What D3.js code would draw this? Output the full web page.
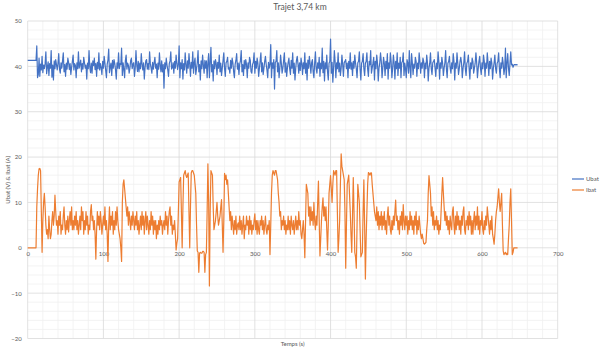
<!DOCTYPE html>
<html><head><meta charset="utf-8">
<script src="https://cdn.jsdelivr.net/npm/d3@7"></script>
<style>body{margin:0;background:#fff}svg{display:block}text{font-family:Lato,"Liberation Sans",sans-serif}</style>
</head><body><svg id="c" width="603" height="352"></svg>
<script>
const title = "Trajet 3,74 km";
const xLabel = "Temps (s)";
const yLabel = "Ubat (V) & Ibat (A)";
const seriesNames = ["Ubat", "Ibat"];
const xTicks = [0,100,200,300,400,500,600,700];
const yTicks = [-20,-10,0,10,20,30,40,50];
const timeStep = 1; // seconds between samples
const ubat = [
41.3,41.3,41.3,41.3,41.3,41.3,41.3,41.3,41.3,41.3,41.3,41.3,44.5,37.5,38.2,41.8,37.8,40.5,39.2,42.2,
38.6,40.3,39.5,40.6,43.2,38.4,39.8,41,38,40.6,39.6,43.5,37.6,40.3,37,41.2,39.5,41.5,40.4,39.2,
40.6,42.8,39.4,38.5,40.8,39.6,41.2,43,38.8,40.4,37.8,40.7,39.4,41.8,40.9,39.3,40.6,38.2,39.8,41.1,
42.5,39.2,40.6,40.2,37.5,40.8,39.5,43.2,39.6,40.5,41.4,38.8,40.6,39.4,42,40.8,39.6,40.3,37.2,40.7,
39.5,43.5,39.9,38.6,40.7,38.5,41.2,40.2,41.8,39.3,40.6,37.8,40.9,39.5,43,39.2,40.6,39.7,38.2,41.1,
39.6,42.2,40.7,39.1,37.5,40.5,41.4,43.8,38.6,39.9,40.7,38,41.3,39.6,41.5,40.6,39.2,37.2,40.8,39.6,
43,39.5,40.6,40.4,44,38,40.8,39.4,37.5,41.3,42.5,39.4,40.7,40.2,38.5,39.6,41.3,41.8,39.5,40.5,
40.8,37.8,39.6,43.5,40.3,38.9,41.1,38.8,40.7,39.5,42.8,40.5,39.2,40.8,37.2,39.7,41.2,41.5,39.4,40.6,
39.3,43.2,40.6,39.6,38.5,40.9,39.4,40.8,42,39.6,40.5,37.5,40.7,39.4,43,40.3,38.8,41.2,38.8,40.4,
35.2,40.8,39.5,41.8,40.3,39.2,37.8,40.6,41.2,43.2,39.4,39.7,40.8,38.5,41.1,39.6,42.5,40.7,39.3,40.4,
44.5,37.5,40.8,39.5,41.5,37.2,40.6,39.2,43,40.4,38.5,41.2,39.6,42.8,40.5,37.8,40.9,39.6,43.2,38.5,
40.8,41.8,38.2,39.5,40.9,43.5,38.8,40.4,37,41.2,39.5,42.5,40.3,38.5,41.3,39.6,41.2,37.5,40.8,42.8,
37.5,40.9,44.2,38.8,40.4,36.8,41.2,39.5,41.5,40.6,38.2,40.9,39.6,42.5,38.8,40.7,38,39.6,41.3,43,
39.5,37.8,40.8,41.1,42,39.4,39.7,38.5,41.3,39.6,41.8,40.8,38.8,37.5,40.5,41.3,42.8,39.4,40.7,38.2,
40.5,41.2,43.5,38.8,40.4,38,41.3,39.5,41.5,40.4,37.5,40.8,39.6,42,41.3,38.8,38.5,40.4,40.9,43,
38.5,41.1,39.6,41.8,40.7,37.8,39.5,41.3,43,38.8,40.8,38.2,39.6,41.1,42.2,40.4,39.2,37.5,40.9,39.6,
40.5,44.8,37.5,40.8,39.6,41.5,35,40.9,41.1,43.5,38.8,40.8,37.5,39.6,42.5,40.7,38.5,39.6,41.3,43,
38.7,40.8,37.8,39.6,40.9,41.8,39.5,38.2,41.3,39.6,43,38.5,40.7,37,39.6,41.4,42.2,40.5,38.5,40.8,
39.1,41.8,40.6,38.2,40.8,39.5,43,38.5,40.7,37,41.4,39.6,42.2,40.6,38.5,40.8,41.5,38.8,37.5,40.7,
43.2,39.5,38.5,40.8,39.6,42,37.8,40.7,39.5,44,38.6,41.1,36.8,40.8,39.5,42.5,38.8,37,40.7,41.1,
46,38.5,40.9,36.5,39.6,43.5,41.1,37.5,40.8,39.5,43,38.8,40.7,38,39.6,42.5,40.5,37.8,40.8,41.1,
41.5,39.5,40.7,37.5,41.1,39.6,43,39.4,40.8,38,41.1,39.6,42.5,40.7,39.5,37.5,40.8,41.1,43.2,39.4,
37,40.7,41.1,42.8,39.5,38,40.7,41.1,43,39.4,37.8,41.1,40.3,43.5,38.5,39.6,40.7,42,37,41.1,
39.5,42.5,40.7,36.8,39.6,40.8,43,41.1,37.5,39.6,42,40.7,38,41.1,39.5,42.8,37.2,40.8,39.6,43,
41.1,37.5,39.6,42.5,40.7,37.2,41.1,39.5,43,38,40.7,39.6,42,37.5,40.8,41.1,43,38,40.7,39.5,
37.5,41.5,40.7,38.5,43.5,39.6,37.5,42.8,40.8,38.2,40.5,39.6,42,41.1,37.8,40.7,39.5,43,41.1,38.5,
40.8,39.6,41.8,41.1,37.5,40.7,39.5,42.5,40.8,36.8,39.6,40.7,43,39.5,38.2,40.8,41.1,41.5,39.6,37.8,
40.7,39.5,43.2,41.1,37.2,40.8,39.6,42,40.7,38,39.6,40.8,43.5,39.5,37.5,40.7,41.1,42.2,39.6,38.5,
40.8,39.5,42.8,41.1,37,40.7,39.6,43,40.8,38.2,39.5,41.1,42,40.7,37.5,39.6,40.8,43.2,39.5,38,
40.7,41.1,42.5,39.6,37.2,40.8,39.5,41.8,41.1,38.5,39.6,40.7,43,40.8,37.5,39.5,41.1,42.2,39.6,38.2,
40.8,39.5,42.5,41.1,37.8,40.7,39.6,43,40.8,38,41.1,39.5,41.8,40.7,37.2,39.6,40.8,42.5,39.5,38.5,
40.7,41.1,43,39.5,37.5,40.8,39.6,42,40.7,38.2,39.5,44,37.5,40.8,42.8,39.6,38,40.7,43.2,40.3,
40.5,39.8,40.3,40.4,40.3,40.4,40.3,40.4
];
const ibat = [
0,0,0,0,0,0,0,0,0,0,0,0,9,13,16,17.4,17.5,17,8,-1,
6,10,12,9,5,3,4,2,7,4,2,3,6,8,5,7,11.6,8,5,6,
3,7,5,8,3,5,4,7,9,5,3,6,4,7,3.5,6,8,5,9,4,
6,4,7,5,8,4,6,3,5,7,4,9,6,8,3,6,4,8,5,7,
3,5,4,8,9.5,6,7,4,6,3,-2.5,4,8,5,7,4,8,6,3,5,
7,5,9,4,6,3,-3,5,9,4,7,5,8,3,6,4,8,5,9,6,
4,3,2,0,-3,10,14,15,13,11,9,7,9,5,8,6,4,7,5,8,
6,4,7,5,8,4,6,3,5,7,4,8,5,7,3,6,8,4,7,5,
3,6,4,8,5,7,3,6,4,6,2,5,3,6,4,7,5,6,3,5,
6,4,8,5,7,3,6,8,9,5,7,3,5,4,6,3,-0.5,1,2,8,
14.5,15,15.5,8,0,9,16,16.5,17,16,15.5,16,16.5,8,0,9,16.5,17,17,16.5,
16,14,12,5,-0.7,-1,-5.4,-1.2,-1,-1.2,-1.2,-0.8,-0.8,-1,-5.4,-1.5,-1,8,18.5,10,
-8.4,8,17,16.5,16,9,4,5,6,8,10,7,5,6,7,9,10.6,5,-1,6,
16.4,15,16,14,15,12,9,6,8,4,7,5,3,6,4,7,3,5,5.5,4,
7,4,6,3,5,7,2,5,4,7,5,6,3,7,4,6,3,5,4,6,
7.5,4,6,3,6,4,3,6,5,7,4,6,3,5,7,4,3,5,4,6,
-1.5,5,12,16,17,16.5,16,17,17,16,15,12,10,7,8,4,6,5,7,4,
6,3,5,4,7,4,6,3,7,5,4,6,3,5,7,4,6,4,8,5,
6,3,2,4,6,3,-2.2,6,14,13,12,7,9,5,9,6,8,5,10,6,
4,7,5,10,14.7,6,-1.8,2,6,9,11,7,9,6,9,4,-0.5,5,12,14,
15.9,13,10,14,17,16.5,16,17,17,8,-1,2,6,14,20.7,18,17,16,15,8,
-4.5,5,14,15,16,12,8,3,-1,7,15.5,8,-1,-2,-4.5,5,14,12,10,4,
-2,-1.5,-1,8,15,5,-6.9,2,8,14,16.6,16.4,16,16.5,16.5,14,12,10,8,7,
6,9,5,8,4,7,5,8,4,7,5,8,4,6,3,7,9,5,7,4,
3,6,4,7,5,8,10.5,6,7,4,6,3,7,5,8,4,9.5,6,4,7,
5,7,3,6,4,8,5,7,4,6,3,7,5,8,3,6,4,7,5,3,
2,3,2,1,0.8,1,1.2,4,6,12,15.9,14,12,7,9,5,8,4,6,5,
7,4,6,3,5,4,8,12,15.5,12,9,6,8,5,7,4,6,3,7,5,
4,8,9,5,3,7,4,8,5,7,4,6,3,7,5,8,9,4,3,6,
5,7,4,8,5,7,3,6,3,6,8,4,7,5,9,4,7,3,6,5,
8,4,3,6,4,7,5,9,7,5,3,6,4,7,3,2,0.8,3,6,8,
9,11,13,10,8,10,12,5,-0.7,-1.5,-1.2,-1,-1.5,-1.2,-1.5,2,5,10,13,6,
-1.5,-1,0,0,0,0,0,0
];
const colors = ["#4472C4", "#ED7D31"];

const svg = d3.select("#c");
const L = 27.7, R = 557.7, T = 21, B = 338.5;
const x = d3.scaleLinear().domain([0,700]).range([L,R]);
const y = d3.scaleLinear().domain([-20,50]).range([B,T]);

const g = svg.append("g");
g.selectAll(".mx").data(d3.range(0,701,20).filter(v=>v%100)).join("line")
  .attr("x1",d=>x(d)).attr("x2",d=>x(d)).attr("y1",T).attr("y2",B)
  .attr("stroke","#f0f0f0").attr("stroke-width",0.8);
g.selectAll(".my").data(d3.range(-20,51,2).filter(v=>v%10)).join("line")
  .attr("y1",d=>y(d)).attr("y2",d=>y(d)).attr("x1",L).attr("x2",R)
  .attr("stroke","#f0f0f0").attr("stroke-width",0.8);
g.selectAll(".Mx").data(xTicks).join("line")
  .attr("x1",d=>x(d)).attr("x2",d=>x(d)).attr("y1",T).attr("y2",B)
  .attr("stroke","#d9d9d9").attr("stroke-width",0.8);
g.selectAll(".My").data(yTicks).join("line")
  .attr("y1",d=>y(d)).attr("y2",d=>y(d)).attr("x1",L).attr("x2",R)
  .attr("stroke","#d9d9d9").attr("stroke-width",0.8);

const yAxis = svg.append("g").attr("transform",`translate(${L},0)`)
  .call(d3.axisLeft(y).tickValues(yTicks).tickSize(0).tickPadding(6));
const xAxis = svg.append("g").attr("transform",`translate(0,${y(0)})`)
  .call(d3.axisBottom(x).tickValues(xTicks).tickSize(0).tickPadding(4));
[yAxis,xAxis].forEach(a=>{
  a.select(".domain").remove();
  a.selectAll("text").attr("fill","#595959").style("font-size","6px").style("font-family","Lato,sans-serif");
});

const line = d3.line().x((d,i)=>x(i*timeStep)).y(d=>y(d));
[ubat, ibat].forEach((s,k)=>{
  svg.append("path").datum(s).attr("d",line).attr("fill","none")
    .attr("stroke",colors[k]).attr("stroke-width",1.2).attr("stroke-linejoin","round");
});

svg.append("text").attr("x",300).attr("y",10).attr("text-anchor","middle")
  .attr("fill","#595959").style("font-size","8.5px").text(title);
svg.append("text").attr("x",(L+R)/2).attr("y",346).attr("text-anchor","middle")
  .attr("fill","#595959").style("font-size","6px").text(xLabel);
svg.append("text").attr("transform",`translate(10,${(T+B)/2}) rotate(-90)`).attr("text-anchor","middle")
  .attr("fill","#595959").style("font-size","6px").text(yLabel);

seriesNames.forEach((n,k)=>{
  const ly = 179 + k*11;
  svg.append("line").attr("x1",572).attr("x2",584).attr("y1",ly).attr("y2",ly)
    .attr("stroke",colors[k]).attr("stroke-width",1.2);
  svg.append("text").attr("x",586).attr("y",ly+2).attr("fill","#595959")
    .style("font-size","6px").text(n);
});
</script></body></html>
